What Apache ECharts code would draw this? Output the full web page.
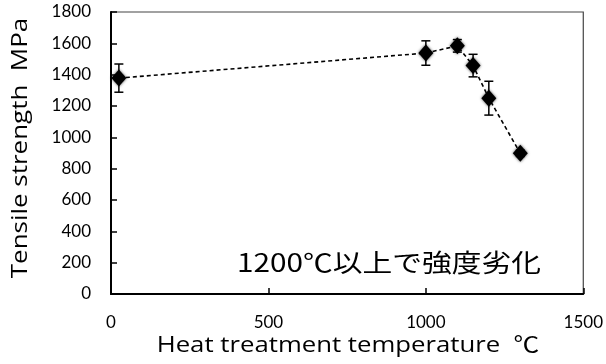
<!DOCTYPE html>
<html>
<head>
<meta charset="utf-8">
<script src="https://cdn.jsdelivr.net/npm/echarts@6/dist/echarts.min.js"></script>
<style>html,body{margin:0;padding:0;background:#fff}#c{width:606px;height:364px}</style>
</head>
<body>
<div id="c"></div>
<script>
var temperatures = [25, 1000, 1100, 1150, 1200, 1300];
var strength = [1378, 1538, 1584, 1458, 1250, 898];
var errorBars = [90, 78, 40, 72, 108, 20];
var xTicks = [0, 500, 1000, 1500];
var yTicks = [0, 200, 400, 600, 800, 1000, 1200, 1400, 1600, 1800];
var xTitle = 'Heat treatment temperature  ℃';
var yTitle = 'Tensile strength  MPa';
var note = '1200℃以上で強度劣化';

var latin = 'Lato, "Noto Sans CJK JP", sans-serif';
var titleFont = '"Open Sans", "Noto Sans CJK JP", sans-serif';
var cjk = '"Noto Sans CJK JP", sans-serif';
var points = temperatures.map(function (t, i) { return [t, strength[i]]; });
var errData = temperatures.map(function (t, i) { return [t, strength[i] - errorBars[i], strength[i] + errorBars[i]]; });

var chart = echarts.init(document.getElementById('c'), null, {renderer: 'canvas'});
chart.setOption({
  animation: false,
  backgroundColor: '#ffffff',
  grid: {left: 111, right: 22, top: 12, bottom: 70, show: true, borderColor: '#444', borderWidth: 1.2, backgroundColor: 'transparent'},
  xAxis: {
    type: 'value', min: xTicks[0], max: xTicks[xTicks.length - 1], interval: 500,
    axisLine: {show: true, onZero: false, lineStyle: {color: '#000', width: 2}},
    axisTick: {show: true, inside: true, length: 6, lineStyle: {color: '#000', width: 1.5}},
    axisLabel: {fontFamily: latin, fontSize: 17, color: '#000', margin: 20, formatter: function (v) { return String(v); }},
    splitLine: {show: false}
  },
  yAxis: {
    type: 'value', min: yTicks[0], max: yTicks[yTicks.length - 1], interval: 200,
    axisLine: {show: true, lineStyle: {color: '#000', width: 2}},
    axisTick: {show: true, inside: true, length: 6, lineStyle: {color: '#000', width: 1.5}},
    axisLabel: {fontFamily: latin, fontSize: 17, color: '#000', margin: 20, formatter: function (v) { return String(v); }},
    splitLine: {show: false}
  },
  graphic: [
    {
      type: 'text', x: 237, y: 262, z: 100, scaleX: 1.19,
      style: {text: note, fontFamily: cjk, fontSize: 25, fill: '#000', textAlign: 'left', textVerticalAlign: 'middle'}
    },
    {
      type: 'text', x: 348, y: 346, z: 100, scaleX: 1.17,
      style: {text: xTitle, fontFamily: titleFont, fontSize: 22, fill: '#000', textAlign: 'center', textVerticalAlign: 'middle'}
    },
    {
      type: 'text', x: 21, y: 148, z: 100, rotation: Math.PI / 2, scaleX: 1.18,
      style: {text: yTitle, fontFamily: titleFont, fontSize: 22, fill: '#000', textAlign: 'center', textVerticalAlign: 'middle'}
    }
  ],
  series: [
    {
      type: 'line', data: points, symbol: 'diamond', symbolSize: [15, 17],
      lineStyle: {color: '#000', width: 1.6, type: [4, 3]},
      itemStyle: {color: '#000', shadowBlur: 3, shadowColor: 'rgba(0,0,0,0.7)'},
      z: 3
    },
    {
      type: 'custom', data: errData, z: 4,
      renderItem: function (params, api) {
        var x = api.value(0);
        var lo = api.coord([x, api.value(1)]);
        var hi = api.coord([x, api.value(2)]);
        var w = 4.5;
        var st = {stroke: '#000', lineWidth: 1.5, fill: null};
        return {type: 'group', children: [
          {type: 'line', shape: {x1: lo[0], y1: lo[1], x2: hi[0], y2: hi[1]}, style: st},
          {type: 'line', shape: {x1: lo[0] - w, y1: lo[1], x2: lo[0] + w, y2: lo[1]}, style: st},
          {type: 'line', shape: {x1: hi[0] - w, y1: hi[1], x2: hi[0] + w, y2: hi[1]}, style: st}
        ]};
      }
    }
  ]
});
</script>
</body>
</html>
